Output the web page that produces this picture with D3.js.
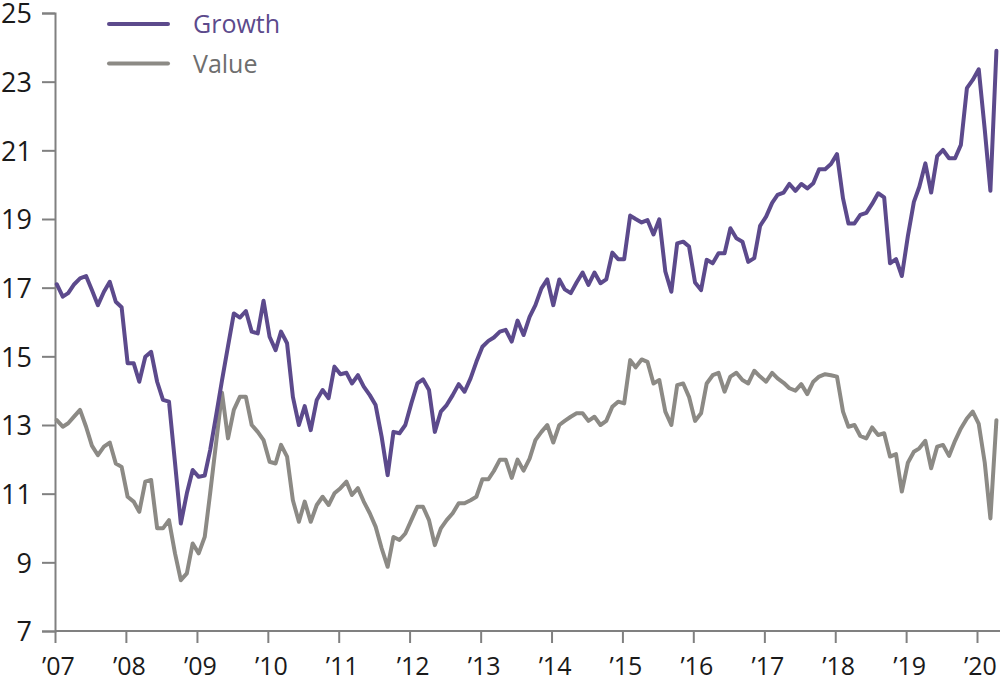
<!DOCTYPE html>
<html>
<head>
<meta charset="utf-8">
<script src="https://cdn.jsdelivr.net/npm/d3@7/dist/d3.min.js"></script>
<style>
  html, body { margin: 0; padding: 0; background: #fff; }
  svg { display: block; }
  text { font-family: "Open Sans", "Noto Sans", sans-serif; }
</style>
</head>
<body>
<svg id="chart" width="1000" height="681"></svg>
<script>
// Monthly series, Jan 2007 .. Apr 2020
const startYear = 2007;
const growth = [
  17.10,16.74,16.84,17.10,17.27,17.34,16.93,16.49,16.88,17.17,16.59,16.43,
  14.80,14.80,14.26,14.99,15.13,14.26,13.73,13.68,11.90,10.13,11.01,11.69,
  11.49,11.53,12.27,13.29,14.30,15.30,16.25,16.13,16.32,15.72,15.67,16.62,
  15.57,15.18,15.72,15.38,13.82,13.00,13.55,12.85,13.73,14.02,13.78,14.70,
  14.48,14.52,14.21,14.45,14.12,13.87,13.58,12.66,11.54,12.80,12.76,13.00,
  13.63,14.21,14.33,14.02,12.80,13.39,13.58,13.87,14.19,13.97,14.36,14.84,
  15.28,15.45,15.55,15.72,15.77,15.43,16.04,15.62,16.15,16.49,16.98,17.24,
  16.49,17.24,16.95,16.84,17.15,17.44,17.08,17.44,17.13,17.24,18.02,17.83,
  17.83,19.10,19.00,18.90,18.97,18.55,18.99,17.47,16.88,18.29,18.34,18.20,
  17.15,16.93,17.81,17.71,18.00,18.00,18.73,18.44,18.34,17.75,17.86,18.80,
  19.07,19.47,19.70,19.77,20.02,19.82,20.02,19.89,20.04,20.45,20.45,20.60,
  20.89,19.60,18.87,18.87,19.12,19.18,19.44,19.75,19.63,17.71,17.83,17.34,
  18.50,19.50,19.94,20.62,19.77,20.83,21.01,20.77,20.77,21.16,22.81,23.05,
  23.36,21.60,19.82,23.90
];
const value = [
  13.14,12.95,13.05,13.25,13.44,12.95,12.40,12.12,12.37,12.49,11.88,11.78,
  10.91,10.77,10.47,11.35,11.40, 9.99, 9.99,10.23, 9.26, 8.48, 8.68, 9.55,
   9.26, 9.74,11.01,12.50,13.94,12.61,13.44,13.82,13.82,13.00,12.80,12.56,
  11.93,11.88,12.42,12.08,10.81,10.18,10.77,10.18,10.67,10.91,10.67,11.01,
  11.16,11.35,10.96,11.16,10.77,10.43,10.04, 9.41, 8.87, 9.74, 9.65, 9.84,
  10.23,10.62,10.62,10.23, 9.50, 9.99,10.23,10.43,10.72,10.72,10.81,10.91,
  11.42,11.42,11.66,11.99,11.99,11.46,11.99,11.67,12.02,12.56,12.80,13.00,
  12.49,13.00,13.12,13.24,13.34,13.34,13.12,13.24,13.00,13.12,13.53,13.68,
  13.63,14.89,14.68,14.91,14.84,14.21,14.31,13.39,13.00,14.16,14.21,13.82,
  13.12,13.34,14.21,14.45,14.52,13.97,14.41,14.52,14.31,14.21,14.58,14.41,
  14.26,14.52,14.36,14.23,14.07,14.00,14.19,13.90,14.26,14.41,14.48,14.45,
  14.41,13.39,12.95,13.00,12.68,12.61,12.93,12.71,12.76,12.08,12.15,11.06,
  11.90,12.22,12.32,12.54,11.74,12.37,12.42,12.10,12.54,12.90,13.19,13.39,
  13.03,11.90,10.28,13.14
];
const yTicks = [7, 9, 11, 13, 15, 17, 19, 21, 23, 25];
const xTickYears = [2007,2008,2009,2010,2011,2012,2013,2014,2015,2016,2017,2018,2019,2020];
const seriesNames = ["Growth", "Value"];
const seriesColors = ["#5c4a8c", "#8c8a85"];
const legendTextColors = ["#5c4a8c", "#6e6e6e"];

const svg = d3.select("#chart");

const x = d3.scaleTime()
  .domain([new Date(2007, 0, 1), new Date(2020, 0, 1)])
  .range([55, 977]);
const y = d3.scaleLinear().domain([7, 25]).range([631, 13]);

const dateOf = i => new Date(startYear, i, 10);

// Y axis
const yAxis = svg.append("g")
  .attr("transform", "translate(55,0)")
  .call(d3.axisLeft(y).tickValues(yTicks).tickSize(13).tickPadding(10).tickFormat(d3.format("d")));
yAxis.select(".domain").attr("stroke", "#808080").attr("stroke-width", 2);
yAxis.selectAll(".tick line").attr("stroke", "#808080").attr("stroke-width", 2);
yAxis.selectAll(".tick text")
  .attr("fill", "#1a1a1a")
  .attr("dy", "0.36em")
  .style("font-size", "27px")
  .style("font-family", "'Open Sans', sans-serif");

// X axis
const xAxis = svg.append("g")
  .attr("transform", "translate(0,631)")
  .call(d3.axisBottom(x)
    .tickValues(xTickYears.map(yr => new Date(yr, 0, 1)))
    .tickSize(12).tickPadding(14)
    .tickFormat(d => "\u2019" + String(d.getFullYear()).slice(2)));
xAxis.select(".domain").attr("d", "M55,0H1000").attr("stroke", "#808080").attr("stroke-width", 2);
xAxis.selectAll(".tick line").attr("stroke", "#808080").attr("stroke-width", 2);
xAxis.selectAll(".tick text")
  .attr("fill", "#1a1a1a")
  .attr("dx", 3)
  .style("font-size", "25px")
  .style("font-family", "'Open Sans', sans-serif");

// Lines
const line = d3.line()
  .x((d, i) => x(dateOf(i)))
  .y(d => y(d))
  .curve(d3.curveLinear);

[value, growth].forEach((arr, k) => {
  const idx = k === 0 ? 1 : 0;
  svg.append("path")
    .datum(arr)
    .attr("fill", "none")
    .attr("stroke", seriesColors[idx])
    .attr("stroke-width", 4)
    .attr("stroke-linejoin", "round")
    .attr("stroke-linecap", "round")
    .attr("d", line);
});

// Legend
const legend = svg.append("g");
seriesNames.forEach((name, k) => {
  const ly = 24 + k * 39.5;
  legend.append("line")
    .attr("x1", 109).attr("x2", 168)
    .attr("y1", ly).attr("y2", ly)
    .attr("stroke", seriesColors[k])
    .attr("stroke-width", 4)
    .attr("stroke-linecap", "round");
  legend.append("text")
    .attr("x", 193).attr("y", ly + 9)
    .attr("fill", legendTextColors[k])
    .style("font-size", "25px")
    .text(name);
});
</script>
</body>
</html>
